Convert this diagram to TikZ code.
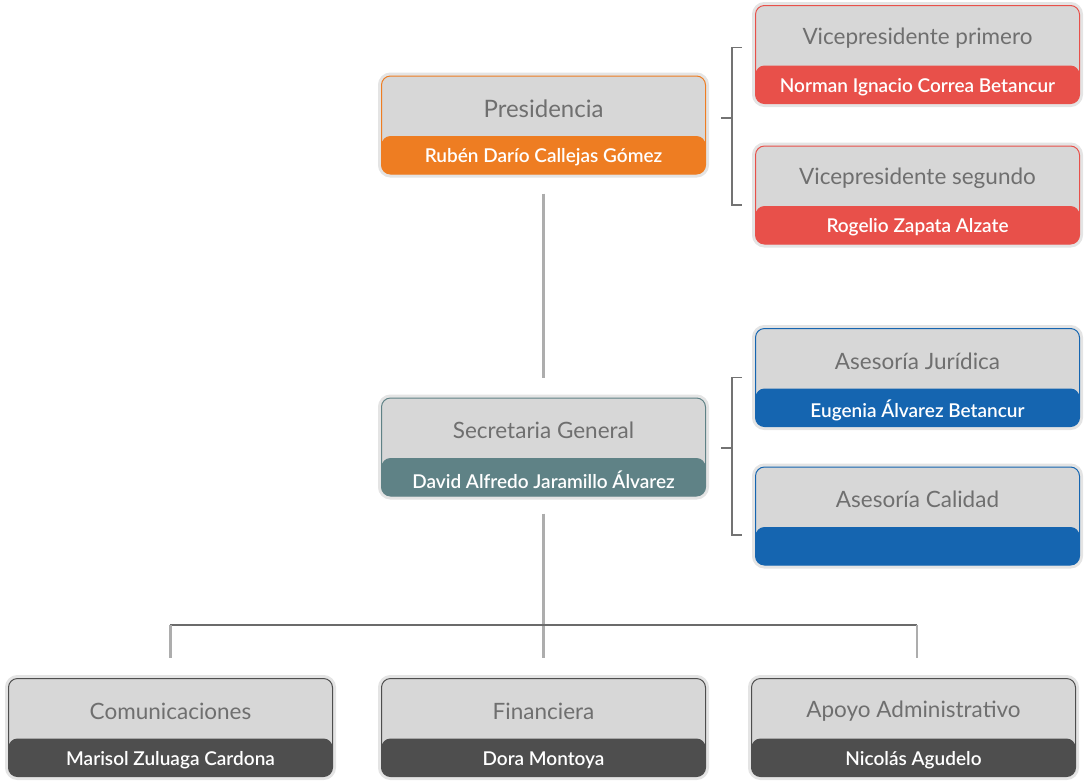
\documentclass[tikz,border=0pt]{standalone}
\usepackage{fontspec}
\setmainfont{Lato}[BoldFont={Lato Semibold}]
\usepackage{tikz}
\usetikzlibrary{calc}

\definecolor{cOrange}{HTML}{EE7D22}
\definecolor{cRed}{HTML}{E8504A}
\definecolor{cTeal}{HTML}{5F8286}
\definecolor{cBlue}{HTML}{1565B0}
\definecolor{cDark}{HTML}{4E4E4E}
\definecolor{cFill}{HTML}{D7D7D7}
\definecolor{cHalo}{HTML}{E4E4E4}
\definecolor{cTitle}{HTML}{6F6F6F}

\begin{document}
\begin{tikzpicture}[x=1pt,y=-1pt,
  orgbox/.style={rectangle, rounded corners=9pt, minimum width=324pt, minimum height=98pt,
    fill=cFill, draw=#1, line width=1pt,
    preaction={draw=cHalo, line width=7pt},
    path picture={\fill[#1] (path picture bounding box.south west) rectangle
      ([yshift=38pt]path picture bounding box.south east);}},
  boxtitle/.style={text=cTitle, font=\fontsize{22.5}{26}\selectfont},
  boxname/.style={text=white, font=\bfseries\fontsize{19}{22}\selectfont},
  trunk/.style={draw=black!32, line width=2.2pt},
  bus/.style={draw=black!58, line width=1.4pt},
  brk/.style={draw=black!55, line width=1.2pt}]
\useasboundingbox (0,0) rectangle (1084,780);
% boxes
\node[orgbox=cOrange] (pres) at (543.5,125) {};
\node[orgbox=cRed] (vp1) at (917.5,54.5) {};
\node[orgbox=cRed] (vp2) at (917.5,195) {};
\node[orgbox=cTeal] (sec) at (543.5,447) {};
\node[orgbox=cBlue] (jur) at (917.5,377.5) {};
\node[orgbox=cBlue] (cal) at (917.5,516) {};
\node[orgbox=cDark] (com) at (170.5,727.5) {};
\node[orgbox=cDark] (fin) at (543.5,727.5) {};
\node[orgbox=cDark] (apo) at (913.5,727.5) {};
% texts
\node[boxtitle, font=\fontsize{24}{28}\selectfont] (presT) at ([yshift=-33pt]pres.north) {Presidencia};
\node[boxname] (presN) at ([yshift=17pt]pres.south) {Rubén Darío Callejas Gómez};
\node[boxtitle] (vp1T) at ([yshift=-33pt]vp1.north) {Vicepresidente primero};
\node[boxname] (vp1N) at ([yshift=17pt]vp1.south) {Norman Ignacio Correa Betancur};
\node[boxtitle] (vp2T) at ([yshift=-33pt]vp2.north) {Vicepresidente segundo};
\node[boxname] (vp2N) at ([yshift=17pt]vp2.south) {Rogelio Zapata Alzate};
\node[boxtitle] (secT) at ([yshift=-33pt]sec.north) {Secretaria General};
\node[boxname] (secN) at ([yshift=17pt]sec.south) {David Alfredo Jaramillo Álvarez};
\node[boxtitle] (jurT) at ([yshift=-33pt]jur.north) {Asesoría Jurídica};
\node[boxname] (jurN) at ([yshift=17pt]jur.south) {Eugenia Álvarez Betancur};
\node[boxtitle] (calT) at ([yshift=-33pt]cal.north) {Asesoría Calidad};
\node[boxtitle] (comT) at ([yshift=-33pt]com.north) {Comunicaciones};
\node[boxname] (comN) at ([yshift=17pt]com.south) {Marisol Zuluaga Cardona};
\node[boxtitle] (finT) at ([yshift=-33pt]fin.north) {Financiera};
\node[boxname] (finN) at ([yshift=17pt]fin.south) {Dora Montoya};
\node[boxtitle] (apoT) at ([yshift=-33pt]apo.north) {Apoyo Administrativo};
\node[boxname] (apoN) at ([yshift=17pt]apo.south) {Nicolás Agudelo};
% main line
\draw[trunk] ([yshift=-19pt]pres.south) -- ([yshift=20pt]sec.north);
\draw[trunk] ([yshift=-17pt]sec.south) -- ([yshift=20pt]fin.north);
\draw[bus] ([xshift=-0.7pt,yshift=53pt]com.north) -- ([xshift=3.5pt,yshift=53pt]apo.north);
\draw[trunk] ([yshift=53pt]com.north) -- ([yshift=20pt]com.north);
\draw[trunk] ([xshift=3.5pt,yshift=53pt]apo.north) -- ([xshift=3.5pt,yshift=20pt]apo.north);
% brackets
\draw[brk] ([shift={(-13,-7)}]vp1.west) -- ++(-10,0) |- ([shift={(-13,10)}]vp2.west);
\draw[brk] ([shift={(15,-7)}]pres.east) -- ++(12,0);
\draw[brk] ([shift={(-13,0)}]jur.west) -- ++(-10,0) |- ([shift={(-13,19)}]cal.west);
\draw[brk] ([shift={(15,1)}]sec.east) -- ++(12,0);
\end{tikzpicture}
\end{document}
